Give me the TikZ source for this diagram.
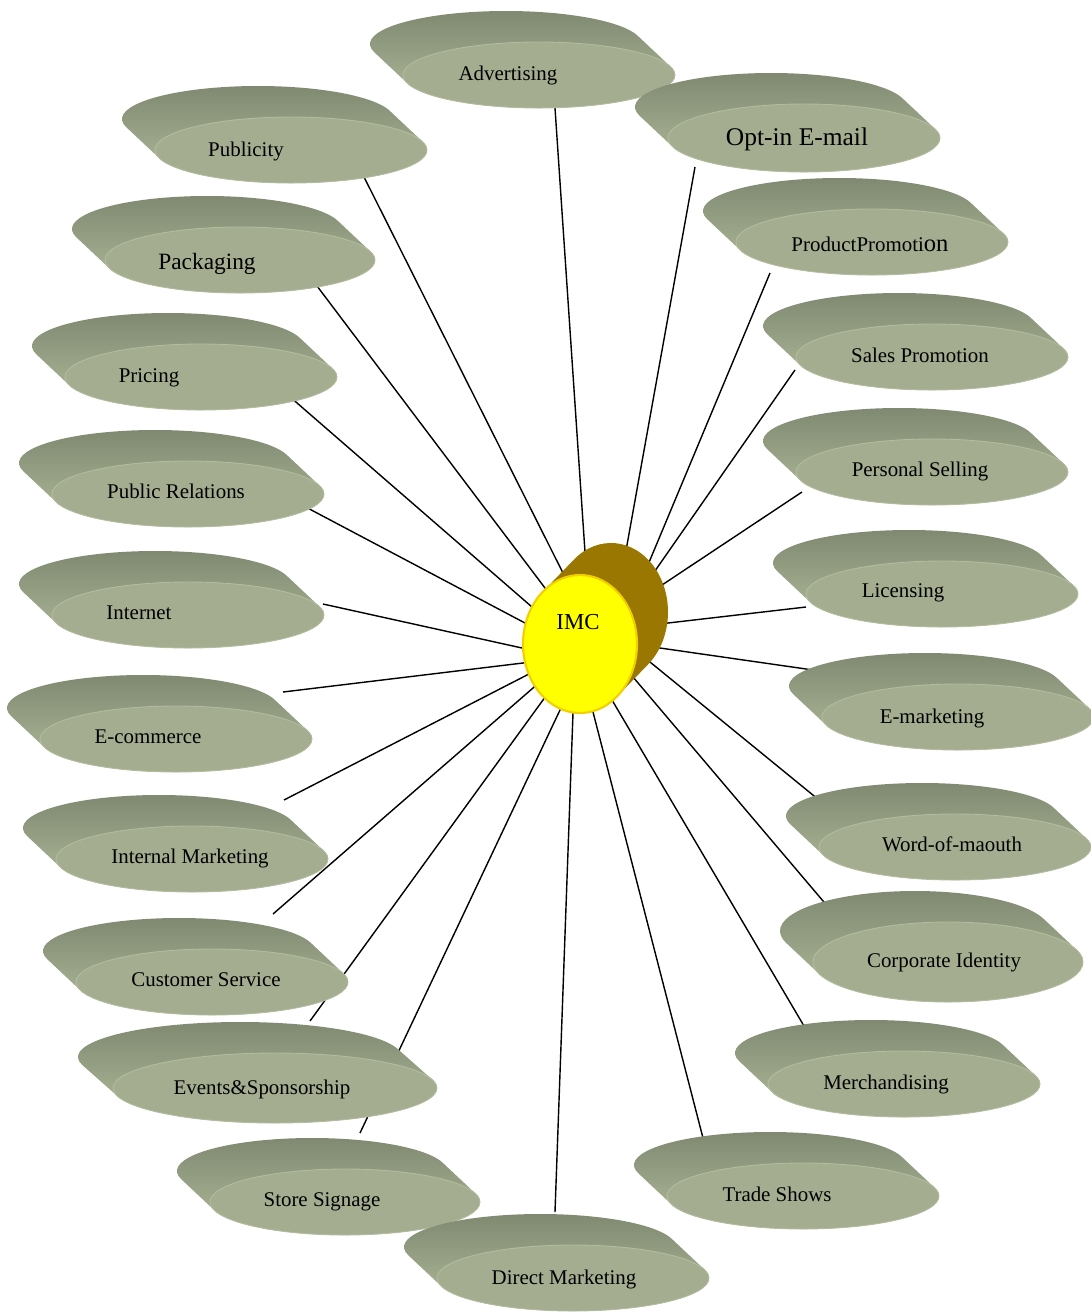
\documentclass[tikz,border=0pt]{standalone}
\usepackage{fontspec}
\setmainfont{Liberation Serif}
\usetikzlibrary{calc}
\definecolor{Face}{HTML}{A4AD90}
\definecolor{SideDark}{HTML}{7E8870}
\definecolor{SideLight}{HTML}{B2BC9C}
\definecolor{Rim}{HTML}{B3BC9F}
\definecolor{Lemon}{HTML}{FFFF00}
\definecolor{Gold}{HTML}{F2D000}
\definecolor{Umber}{HTML}{997700}

% a flat disc seen in depth: #1,#2 front centre, #3,#4 radii, #5,#6 depth, #7 side, #8 face
\newcommand{\disc}[8]{%
  \pgfmathsetmacro\tz{atan(-(#4)*(#5)/((#3)*(#6)))}
  \pgfmathsetmacro\ax{#1+(#5)+(#3)*cos(\tz)}
  \pgfmathsetmacro\ay{#2+(#6)+(#4)*sin(\tz)}
  \pgfmathsetmacro\bx{#1-(#3)*cos(\tz)}
  \pgfmathsetmacro\by{#2-(#4)*sin(\tz)}
  \path[#7] (\ax,\ay) arc[start angle=\tz, end angle=\tz-180, x radius=#3, y radius=#4]
    -- (\bx,\by) arc[start angle=\tz+180, end angle=\tz, x radius=#3, y radius=#4] -- cycle;
  \path[#8] (#1,#2) ellipse[x radius=#3, y radius=#4];
}

\begin{document}
\begin{tikzpicture}[x=0.02cm, y=-0.02cm,
    spoke/.style={draw=black, line width=0.8pt},
    side/.style={top color=SideDark, bottom color=SideLight},
    face/.style={fill=Face, draw=Rim, line width=0.5pt},
    disctext/.style={inner sep=0pt, text height=1.5ex, text depth=0.25ex, yshift=-1.2pt}]
  \useasboundingbox (0,0) rectangle (1091,1313);

  % spokes: outer end on the disc, inner end where it goes under IMC
  \foreach \nm/\ex/\ey/\ix/\iy in {adv/555/108/585/552, opt/695/167/627/545,
      pub/362/173/563/573, prod/770/273/650/560, pack/314/282/545/588,
      sales/795/370/657/568, pricing/289/396/532/607, pers/802/492/665/583,
      pubrel/300/504/525/623, lic/806/607/668/623, inet/323/604/522/648,
      emkt/820/671/660/648, ecom/283/692/523/663, wom/819/800/650/662,
      intm/284/800/527/675, corp/829/908/633/677, cust/273/914/533/688,
      merch/804/1026/612/700, events/310/1021/543/700, store/360/1133/560/710,
      trade/703/1138/593/712, direct/555/1212/573/713} {
    \coordinate (\nm-e) at (\ex,\ey);
    \coordinate (\nm-i) at (\ix,\iy);
  }

  \foreach \nm in {adv, opt, pub, prod, pack, sales, pricing, pers, pubrel, lic,
      inet, emkt, ecom, wom, intm, corp, cust, merch, events, store, trade, direct}
    \draw[spoke] (\nm-e) -- ($(\nm-e)!1.05!(\nm-i)$);

  % the discs
  \foreach \nm/\cx/\cy/\rx/\ry/\dx/\tx/\ty/\fs/\txt in {
      adv/539/75/136/33/-33/508/73/11.9/Advertising,
      opt/804/138/136/34/-33/797/138/14.5/Opt-in E-mail,
      pub/291/150/136/33/-33/246/149/11.9/Publicity,
      prod/872/242/136/33/-33/870/244/11.9/ProductPromoti{\fontsize{14}{16}\selectfont on},
      pack/240/260/135/33/-33/207/262/13.3/Packaging,
      sales/932/357/136/33/-33/920/355/11.9/Sales Promotion,
      pricing/201/377/136/33/-33/149/375/11.9/Pricing,
      pers/932/472/136/33/-33/920/469/11.9/Personal Selling,
      pubrel/188/494/136/33/-33/176/491/11.9/Public Relations,
      lic/942/594/136/33/-33/903/590/11.9/Licensing,
      inet/188/615/136/33/-33/139/612/11.9/Internet,
      emkt/958/717/136/33/-33/932/716/11.9/E-marketing,
      ecom/176/739/136/33/-33/148/736/11.9/E-commerce,
      wom/955/847/136/33/-33/952/844/11.9/Word-of-maouth,
      intm/192/859/136/33/-33/190/856/11.9/Internal Marketing,
      corp/948/962/135/40/-33/944/960/11.9/Corporate Identity,
      cust/212/982/136/33/-33/206/979/11.9/Customer Service,
      merch/904/1084/136/33/-33/886/1082/11.9/Merchandising,
      events/275/1088/162/35/-35/262/1087/11.9/Events\&Sponsorship,
      store/345/1202/135/33/-33/322/1199/11.9/Store Signage,
      trade/803/1196/136/33/-33/777/1194/11.9/Trade Shows,
      direct/573/1278/136/33/-33/564/1277/11.9/Direct Marketing} {
    \disc{\cx}{\cy}{\rx}{\ry}{\dx}{-31}{side}{face}
    \node[disctext, font=\fontsize{\fs}{\fs}\selectfont] (\nm) at (\tx,\ty) {\txt};
  }

  % centre disc
  \disc{580}{644}{57}{69}{31}{-32}{fill=Umber}{fill=Lemon, draw=Gold, line width=1.2pt}
  \node[disctext, font=\fontsize{13}{13}\selectfont] (imc) at (578,622) {IMC};
\end{tikzpicture}
\end{document}
